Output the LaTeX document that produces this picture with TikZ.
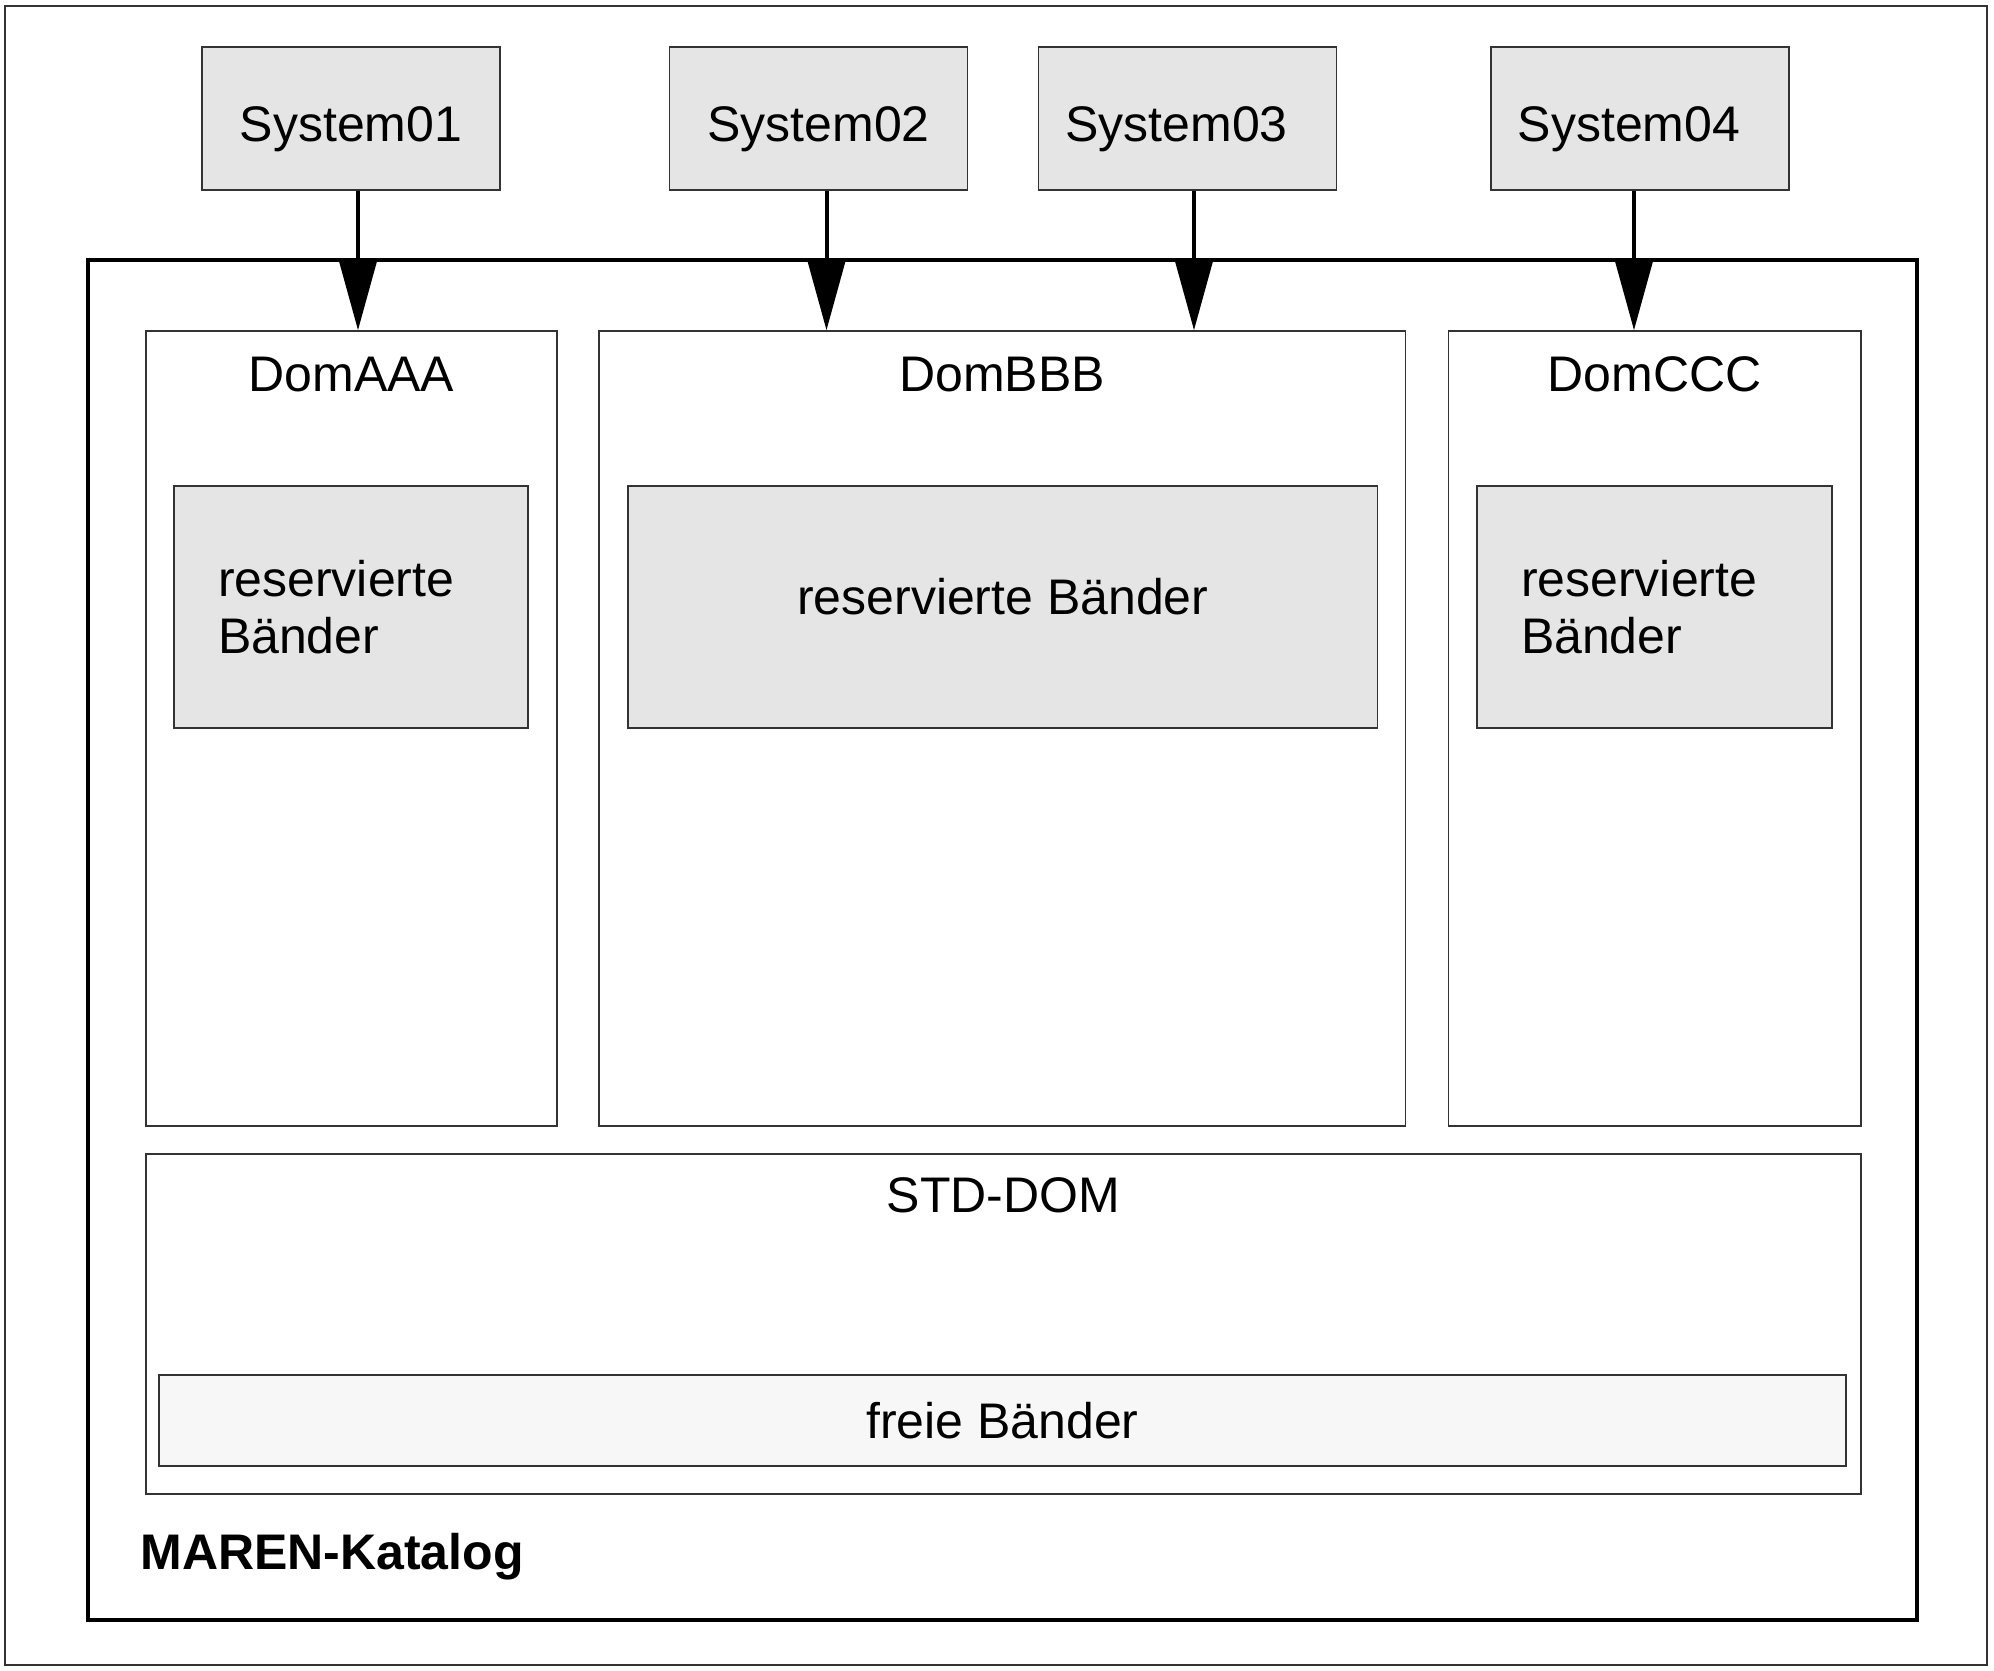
\documentclass[tikz,border=0pt]{standalone}
\usepackage{fontspec}
\setmainfont{Liberation Sans}
\usetikzlibrary{arrows.meta,positioning}

\tikzset{
  txt/.style={font=\fontsize{25pt}{28.5pt}\selectfont},
  sysbox/.style={txt, draw=black!80, fill=black!10, line width=0.75pt, inner sep=0pt,
    minimum width=149pt, minimum height=71.5pt, text height=23pt, text depth=0pt},
  dombox/.style={draw=black!80, line width=0.75pt, inner sep=0pt, minimum height=397.5pt},
  resbox/.style={txt, draw=black!80, fill=black!10, line width=0.75pt, inner ysep=0pt,
    minimum height=121pt},
  domlabel/.style={txt, anchor=base, inner sep=0pt},
  feed/.style={line width=2pt, -{Triangle[length=35.5pt,width=19pt]}}
}

\begin{document}
\begin{tikzpicture}[x=0.5pt,y=-0.5pt]
\useasboundingbox (0,0) rectangle (1994,1671);
% frames
\draw[black!80, line width=0.75pt] (5,6) rectangle (1987,1665);
\draw[line width=2pt] (88,260) rectangle (1917,1620);

% systems
\node[sysbox] (s1) at (351,118.5) {System01};
\node[sysbox] (s2) at (818.5,118.5) {System02};
\node[sysbox] (s3) at (1187.5,118.5) {System03\hspace*{11pt}};
\node[sysbox] (s4) at (1640,118.5) {System04\hspace*{11pt}};

% domains
\node[dombox, minimum width=205.5pt] (dA) at (351.5,728.5) {};
\node[dombox, minimum width=403.25pt] (dB) at (1002,728.5) {};
\node[dombox, minimum width=206.25pt] (dC) at (1654.75,728.5) {};
\node[domlabel] (lA) at ([yshift=-30.5pt]dA.north) {DomAAA};
\node[domlabel] (lB) at ([yshift=-30.5pt]dB.north) {DomBBB};
\node[domlabel] (lC) at ([yshift=-30.5pt]dC.north) {DomCCC};

% reserved tapes
\node[resbox, inner xsep=22pt, text width=133pt, align=left] (rA) at (351,607) {reservierte\\B\"ander};
\node[resbox, inner xsep=0pt, minimum width=374.75pt, text height=7pt, text depth=0pt] (rB) at (1002.75,607) {reservierte B\"ander};
\node[resbox, inner xsep=22pt, text width=133.5pt, align=left] (rC) at (1654.5,607) {reservierte\\B\"ander};

% standard domain
\node[draw=black!80, line width=0.75pt, inner sep=0pt, minimum width=857.5pt, minimum height=170pt] (std) at (1003.5,1324) {};
\node[domlabel] (lstd) at ([yshift=-29.5pt]std.north) {STD-DOM};
\node[txt, draw=black!80, fill=black!3, line width=0.75pt, inner sep=0pt,
  minimum width=843.5pt, minimum height=45.5pt] (free) at (1002.5,1420.5) {freie B\"ander};

\node[txt, anchor=base west, inner sep=0pt, font=\fontsize{25pt}{28.5pt}\selectfont\bfseries] (cat) at (140,1569) {MAREN-Katalog};

% connections
\draw[feed] ([xshift=3.5pt]s1.south) -- ([xshift=3.5pt]s1.south |- dA.north);
\draw[feed] ([xshift=4pt]s2.south) -- ([xshift=4pt]s2.south |- dB.north);
\draw[feed] ([xshift=3.25pt]s3.south) -- ([xshift=3.25pt]s3.south |- dB.north);
\draw[feed] ([xshift=-3pt]s4.south) -- ([xshift=-3pt]s4.south |- dC.north);
\end{tikzpicture}
\end{document}
